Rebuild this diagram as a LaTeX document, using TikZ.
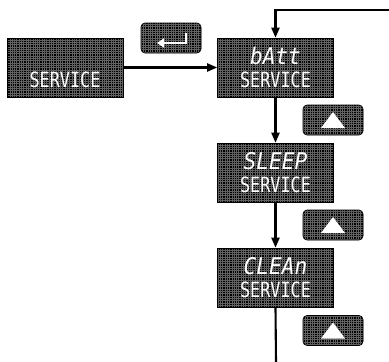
\documentclass[tikz,border=0pt]{standalone}
\usepackage{fontspec}
\newfontfamily\lcdfont{DejaVu Sans Mono}
\usetikzlibrary{arrows.meta}
\begin{document}
\begin{tikzpicture}[x=1pt,y=-1pt,
  lcdbox/.style={draw=black,line width=0.6pt,fill=black,minimum width=116pt,minimum height=59pt,inner sep=0pt,
    path picture={\draw[black!62,line width=0.55pt] (path picture bounding box.south west) grid[step=2.3pt] (path picture bounding box.north east);}},
  keybox/.style={lcdbox,minimum width=60pt,minimum height=30pt,rounded corners=4pt},
  toptext/.style={text=white,font=\lcdfont\itshape\fontsize{23}{23}\selectfont,inner sep=0pt,xscale=0.92},
  subtext/.style={text=white,font=\lcdfont\fontsize{21}{21}\selectfont,inner sep=0pt,xscale=0.8},
  conn/.style={line width=2.1pt,-{Triangle[length=10pt,width=8pt]}},
  plain/.style={line width=2.1pt}]
\useasboundingbox[fill=white] (0,0) rectangle (389,362);
% display boxes
\node[lcdbox] (svc) at (65,67.5) {};
\node[lcdbox] (batt) at (275.5,67.5) {};
\node[lcdbox] (sleep) at (275.5,172.5) {};
\node[lcdbox] (clean) at (275.5,277.5) {};
% texts
\node[subtext] (t0) at ([yshift=-42pt]svc.north) {SERVICE};
\node[toptext] (t1a) at ([yshift=-18pt]batt.north) {bAtt};
\node[subtext] (t1b) at ([yshift=-42pt]batt.north) {SERVICE};
\node[toptext] (t2a) at ([yshift=-18pt]sleep.north) {SLEEP};
\node[subtext] (t2b) at ([yshift=-42pt]sleep.north) {SERVICE};
\node[toptext] (t3a) at ([yshift=-18pt]clean.north) {CLEAn};
\node[subtext] (t3b) at ([yshift=-42pt]clean.north) {SERVICE};
% key boxes
\node[keybox] (enter) at (171,38) {};
\node[keybox] (up1) at (333,120) {};
\node[keybox] (up2) at (333,225) {};
\node[keybox] (up3) at (333,330.5) {};
% enter symbol
\draw[white,line width=2.2pt,-{Triangle[length=7pt,width=9pt]}] (186,33) -- (186,43) -- (157,43);
% up triangles
\foreach \k in {up1,up2,up3}{
  \fill[white] ([shift={(0,-8)}]\k.center) -- ([shift={(12,8)}]\k.center) -- ([shift={(-12,8)}]\k.center) -- cycle;
}
% connectors
\coordinate (topright) at (389,10);
\coordinate (bottom) at (276,362);
\draw[conn] (svc.east) -- (batt.west);
\draw[conn] (topright) -| (batt.north);
\draw[conn] (batt.south) -- (sleep.north);
\draw[conn] (sleep.south) -- (clean.north);
\draw[plain] (clean.south) -- (bottom);
\end{tikzpicture}
\end{document}
